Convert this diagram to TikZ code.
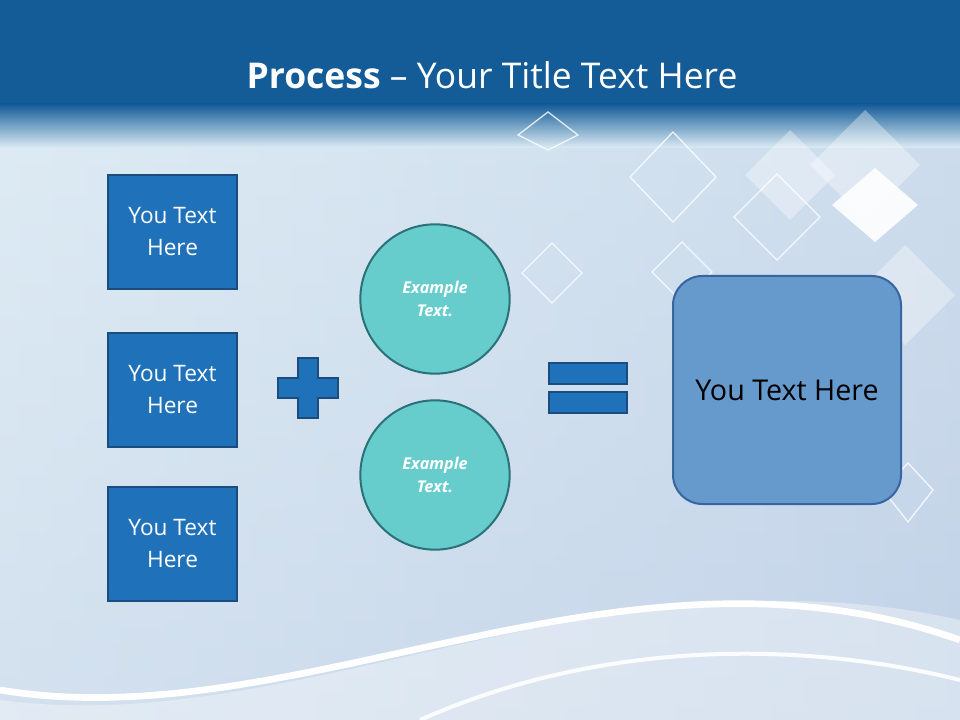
\documentclass[tikz,border=0pt]{standalone}
\usepackage{fontspec}
\setmainfont{Open Sans}
\usetikzlibrary{shapes.geometric}
\definecolor{topblue}{HTML}{135C98}
\definecolor{bgA}{HTML}{DCEBF4}
\definecolor{bgB}{HTML}{C3D3E8}
\definecolor{boxblue}{HTML}{1F72BA}
\definecolor{boxedge}{HTML}{1A4C7E}
\definecolor{teal}{HTML}{66CCCC}
\definecolor{tealedge}{HTML}{2A7178}
\definecolor{bigbox}{HTML}{6699CC}
\definecolor{bigedge}{HTML}{3765A0}
\tikzset{
  inbox/.style={draw=boxedge,line width=1.5pt,fill=boxblue,minimum width=97pt,minimum height=85pt,text=white,font=\fontsize{17}{24}\selectfont,align=center},
  circ/.style={circle,draw=tealedge,line width=1.5pt,fill=teal,minimum size=112pt,text=white,font=\fontsize{12.2}{17}\selectfont\bfseries\itshape,align=center},
  sym/.style={draw=boxedge,line width=1.2pt,fill=boxblue},
  deco/.style={draw=white,line width=1pt,opacity=0.8},
  decof/.style={fill=white,opacity=0.35}
}
\begin{document}
\begin{tikzpicture}[x=0.75pt,y=-0.75pt]
\useasboundingbox (0,0) rectangle (960,720);
\shade[top color=bgA,bottom color=bgB] (0,0) rectangle (960,720);
\shade[left color=bgA!80!white,right color=bgB,opacity=0.5] (0,140) rectangle (960,720);
\fill[topblue] (0,0) rectangle (960,105);
\shade[top color=topblue,bottom color=bgA] (0,104) rectangle (960,148);
% decorative diamonds
\fill[decof] (790,130) -- (835,175) -- (790,220) -- (745,175) -- cycle;
\fill[decof] (905,245) -- (955,295) -- (905,345) -- (855,295) -- cycle;
\fill[white,opacity=0.9] (875,168) -- (918,205) -- (875,242) -- (832,205) -- cycle;
\fill[decof] (865,110) -- (920,165) -- (865,220) -- (810,165) -- cycle;
\draw[deco] (673,132) -- (716,177) -- (673,222) -- (630,177) -- cycle;
\draw[deco] (777,174) -- (820,217) -- (777,260) -- (734,217) -- cycle;
\draw[deco] (552,243) -- (582,273) -- (552,303) -- (522,273) -- cycle;
\draw[deco] (682,242) -- (712,272) -- (682,302) -- (652,272) -- cycle;
\draw[deco] (548,112) -- (578,135) -- (548,150) -- (518,135) -- cycle;
\draw[deco] (908,463) -- (933,490) -- (908,522) -- (883,490) -- cycle;
% bottom waves
\fill[white,opacity=0.35] (0,720) -- (0,700) .. controls (300,740) and (600,540) .. (960,620) -- (960,720) -- cycle;
\draw[white,line width=5pt] (0,690) .. controls (300,740) and (620,520) .. (960,640);
\draw[white,line width=3pt,opacity=0.9] (420,720) .. controls (600,640) and (800,640) .. (960,680);
% title
\node[text=white,font=\fontsize{26.6}{32}\selectfont] (title) at (492,75) {\textbf{Process} -- Your Title Text Here};
% left boxes
\node[inbox] (b1) at (172.5,232) {You Text\\Here};
\node[inbox] (b2) at (172.5,390) {You Text\\Here};
\node[inbox] (b3) at (172.5,544) {You Text\\Here};
% plus
\draw[sym] (298,358) -- (318,358) -- (318,378) -- (338,378) -- (338,398) -- (318,398) -- (318,418) -- (298,418) -- (298,398) -- (278,398) -- (278,378) -- (298,378) -- cycle;
% circles
\node[circ] (c1) at (435,299) {Example\\Text.};
\node[circ] (c2) at (435,475) {Example\\Text.};
% equal
\draw[sym] (549,363) rectangle (627,384);
\draw[sym] (549,392) rectangle (627,413);
% result
\node[draw=bigedge,line width=1.5pt,fill=bigbox,rounded corners=22pt,minimum width=171pt,minimum height=171pt,font=\fontsize{21.5}{25}\selectfont] (res) at (787,390) {You Text Here};
\end{tikzpicture}
\end{document}
